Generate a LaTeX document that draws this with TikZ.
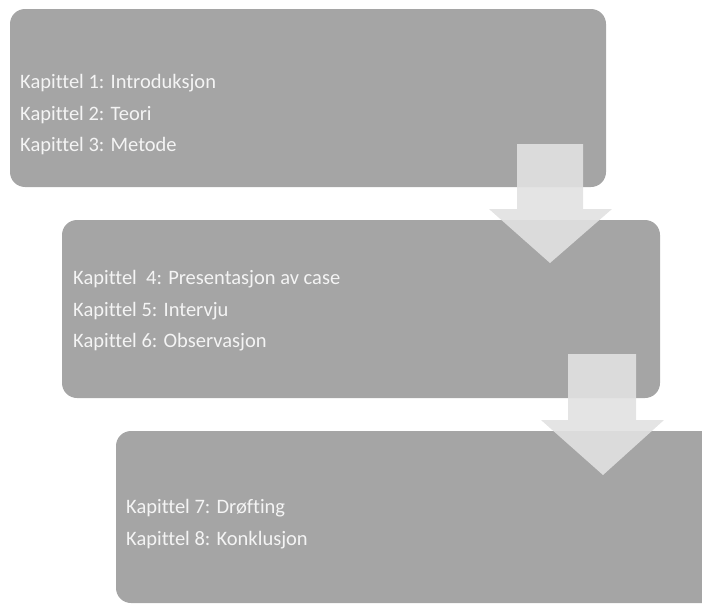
\documentclass[tikz,border=0pt]{standalone}
\usepackage{fontspec}
\setmainfont[Ligatures=NoCommon]{Carlito}
\begin{document}
\begin{tikzpicture}[x=1pt,y=-1pt,
  chapbox/.style={fill=boxgray,draw=none,rounded corners=15pt},
  chaptext/.style={anchor=base west,inner sep=0pt,text=textwhite,font=\fontsize{20.5}{20.5}\selectfont},
  downarrow/.style={fill=arrowgray,fill opacity=0.91,draw=none}]
\definecolor{boxgray}{HTML}{A5A5A5}
\definecolor{arrowgray}{HTML}{E1E1E1}
\definecolor{textwhite}{HTML}{F4F4F4}
\clip (0,0) rectangle (702,605);
% boxes
\path[chapbox] (10,9) rectangle (606,187);
\path[chapbox] (62,220) rectangle (660,398);
\path[chapbox] (116,431) rectangle (740,603);
% texts
\node[chaptext] (t1) at (20,88) {Kapittel 1: Introduksjon};
\node[chaptext] (t2) at (20,120) {Kapittel 2: Teori};
\node[chaptext] (t3) at (20,151) {Kapittel 3: Metode};
\node[chaptext] (t4) at (73,284) {Kapittel\ \ 4: Presentasjon av case};
\node[chaptext] (t5) at (73,316) {Kapittel 5: Intervju};
\node[chaptext] (t6) at (73,347) {Kapittel 6: Observasjon};
\node[chaptext] (t7) at (126,513) {Kapittel 7: Drøfting};
\node[chaptext] (t8) at (126,545) {Kapittel 8: Konklusjon};
% arrows
\path[downarrow] (517,144) -- (583,144) -- (583,209) -- (612,209) -- (550,263) -- (489,209) -- (517,209) -- cycle;
\path[downarrow] (568,354) -- (636,354) -- (636,420) -- (664,420) -- (603,475) -- (541,420) -- (568,420) -- cycle;
\end{tikzpicture}
\end{document}
